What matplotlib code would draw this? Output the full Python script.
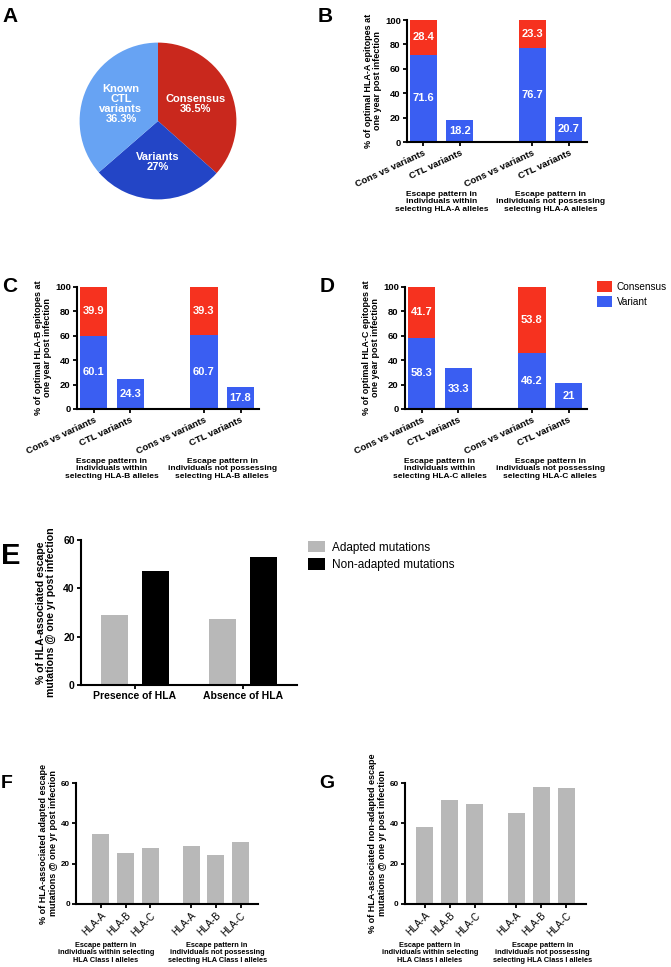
import matplotlib
matplotlib.use("Agg")
import matplotlib.pyplot as plt
import numpy as np

plt.rcParams['font.family'] = ['Liberation Sans', 'DejaVu Sans']

W, H = 671, 967

# panel A
pie_labels = ['Consensus', 'Variants', 'Known\nCTL\nvariants']
pie_values = [36.5, 27.0, 36.3]
pie_colors = ['#c9281d', '#2345c6', '#67a3f3']

# panels B-D
bar_cats = ['Cons vs variants', 'CTL variants', 'Cons vs variants', 'CTL variants']
B_variant = [71.6, 18.2, 76.7, 20.7]
B_consensus = [28.4, 0, 23.3, 0]
C_variant = [60.1, 24.3, 60.7, 17.8]
C_consensus = [39.9, 0, 39.3, 0]
D_variant = [58.3, 33.3, 46.2, 21.0]
D_consensus = [41.7, 0, 53.8, 0]

# panel E
E_groups = ['Presence of HLA', 'Absence of HLA']
E_adapted = [29.0, 27.2]
E_nonadapted = [47.2, 53.1]

# panels F, G
hla_cats = ['HLA-A', 'HLA-B', 'HLA-C', 'HLA-A', 'HLA-B', 'HLA-C']
F_vals = [34.7, 25.5, 28.0, 29.0, 24.5, 30.8]
G_vals = [38.3, 51.4, 49.7, 45.0, 58.2, 57.4]

RED = '#f6321f'
BLUE = '#3a5ef2'
GRAY = '#b8b8b8'

fig = plt.figure(figsize=(W / 100, H / 100), dpi=100)


def px_axes(x0, y0, x1, y1):
    # pixel box (left, top, right, bottom) -> figure axes
    return fig.add_axes([x0 / W, 1 - y1 / H, (x1 - x0) / W, (y1 - y0) / H])


def style(ax, fs=6):
    for s in ['top', 'right']:
        ax.spines[s].set_visible(False)
    for s in ['left', 'bottom']:
        ax.spines[s].set_linewidth(1.5)
    ax.tick_params(width=1.3, length=3, labelsize=fs, pad=1.5)
    for t in ax.get_yticklabels() + ax.get_xticklabels():
        t.set_fontweight('bold')


def panel_label(txt, x, y, fs=15):
    fig.text(x / W, 1 - y / H, txt, fontsize=fs, fontweight='bold', ha='left', va='center')


# ---- A: pie
ax = px_axes(60, 23, 256, 219)
wedges, texts = ax.pie(pie_values, colors=pie_colors, startangle=90, counterclock=False,
                       labels=[f'{l}\n{v:g}%' for l, v in zip(pie_labels, pie_values)],
                       labeldistance=0.52, wedgeprops=dict(linewidth=0),
                       textprops=dict(color='white', fontweight='bold', fontsize=8))
for t in texts:
    t.set_ha('center')
    t.set_va('center')
    t.set_linespacing(1.0)
ax.set_aspect('equal')
panel_label('A', 2, 17)


# ---- B, C, D: stacked bars
def stacked(box, variant, consensus, allele, ylab):
    ax = px_axes(*box)
    pos = np.array([0, 1, 3, 4])
    ax.bar(pos, variant, width=0.75, color=BLUE, label='Variant')
    ax.bar(pos, consensus, bottom=variant, width=0.75, color=RED, label='Consensus')
    for p, v, c in zip(pos, variant, consensus):
        ax.text(p, v / 2, f'{v:g}', color='white', fontweight='bold', fontsize=8,
                ha='center', va='center')
        if c > 0:
            ax.text(p, v + c / 2, f'{c:g}', color='white', fontweight='bold', fontsize=8,
                    ha='center', va='center')
    ax.set_xlim(-0.45, 4.5)
    ax.set_ylim(0, 100)
    ax.set_yticks([0, 20, 40, 60, 80, 100])
    ax.set_xticks(pos)
    ax.set_xticklabels(bar_cats, rotation=25, ha='right', rotation_mode='anchor')
    ax.set_ylabel(ylab, fontsize=6.5, fontweight='bold', linespacing=1.0, labelpad=2)
    style(ax, fs=6.8)
    ax.text(0.5, -0.40, f'Escape pattern in\nindividuals within\nselecting {allele} alleles',
            transform=ax.get_xaxis_transform(), ha='center', va='top', fontsize=6.0,
            fontweight='bold', linespacing=1.1)
    ax.text(3.5, -0.40, f'Escape pattern in\nindividuals not possessing\nselecting {allele} alleles',
            transform=ax.get_xaxis_transform(), ha='center', va='top', fontsize=6.0,
            fontweight='bold', linespacing=1.1)
    return ax


stacked((407, 20, 587, 142), B_variant, B_consensus, 'HLA-A',
        '% of optimal HLA-A epitopes at\none year post infection')
panel_label('B', 318, 17)
stacked((77, 287, 259, 409), C_variant, C_consensus, 'HLA-B',
        '% of optimal HLA-B epitopes at\none year post infection')
panel_label('C', 2, 287)
axD = stacked((405, 287, 587, 409), D_variant, D_consensus, 'HLA-C',
              '% of optimal HLA-C epitopes at\none year post infection')
panel_label('D', 320, 287)
h, l = axD.get_legend_handles_labels()
fig.legend(h[::-1], l[::-1], loc='upper left', bbox_to_anchor=(597 / W, 1 - 281 / H),
           frameon=False, fontsize=7.2, handlelength=1.5, handleheight=1.3,
           handletextpad=0.45, labelspacing=0.45, borderaxespad=0, borderpad=0)

# ---- E
ax = px_axes(81, 540, 297, 685)
g = np.arange(len(E_groups))
ax.bar(g - 0.19, E_adapted, width=0.245, color=GRAY, label='Adapted mutations')
ax.bar(g + 0.19, E_nonadapted, width=0.245, color='black', label='Non-adapted mutations')
ax.set_xlim(-0.5, 1.5)
ax.set_ylim(0, 60)
ax.set_yticks([0, 20, 40, 60])
ax.set_xticks(g)
ax.set_xticklabels(E_groups)
ax.set_ylabel('% of HLA-associated escape\nmutations @ one yr post infection', fontsize=7.6,
              fontweight='bold', linespacing=1.05, labelpad=5)
style(ax, fs=7.5)
h, l = ax.get_legend_handles_labels()
fig.legend(h, l, loc='upper left', bbox_to_anchor=(308 / W, 1 - 541 / H),
           frameon=False, fontsize=8.5, handlelength=1.4, handleheight=1.1,
           handletextpad=0.6, labelspacing=0.4, borderaxespad=0, borderpad=0)
panel_label('E', 1, 556, fs=21)


# ---- F, G
def hla_bars(box, vals, ylab, xlim):
    ax = px_axes(*box)
    pos = np.array([0, 1, 2, 3.65, 4.65, 5.65])
    ax.bar(pos, vals, width=0.68, color=GRAY)
    ax.set_xlim(*xlim)
    ax.set_ylim(0, 60)
    ax.set_yticks([0, 20, 40, 60])
    ax.set_xticks(pos)
    ax.set_xticklabels(hla_cats, rotation=45, ha='right', rotation_mode='anchor')
    ax.set_ylabel(ylab, fontsize=6.5, fontweight='bold', linespacing=1.05, labelpad=2)
    style(ax, fs=5.8)
    for t in ax.get_xticklabels():
        t.set_fontweight('normal')
        t.set_fontsize(7)
    ax.text(0.2, -0.31, 'Escape pattern in\nindividuals within selecting\nHLA Class I alleles',
            transform=ax.get_xaxis_transform(), ha='center', va='top', fontsize=5.3,
            fontweight='bold', linespacing=1.1)
    ax.text(4.7, -0.31, 'Escape pattern in\nindividuals not possessing\nselecting HLA Class I alleles',
            transform=ax.get_xaxis_transform(), ha='center', va='top', fontsize=5.3,
            fontweight='bold', linespacing=1.1)


hla_bars((76, 783, 258, 904), F_vals,
         '% of HLA-associated adapted escape\nmutations @ one yr post infection', (-1.0, 6.35))
panel_label('F', 1, 783, fs=14)
hla_bars((405, 783, 586, 904), G_vals,
         '% of HLA-associated non-adapted escape\nmutations @ one yr post infection', (-0.8, 6.45))
panel_label('G', 319, 783, fs=14)

fig.savefig('out.png', dpi=100)
